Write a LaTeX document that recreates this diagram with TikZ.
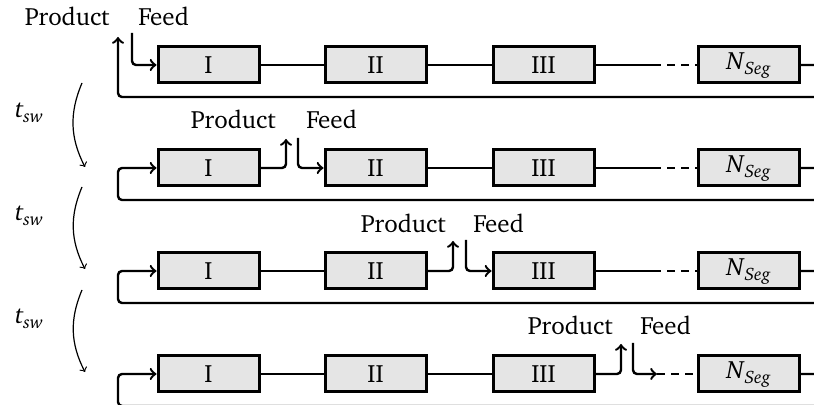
\documentclass[tikz,border=0pt]{standalone}
\usepackage[T1]{fontenc}
\usepackage{charter}
\usetikzlibrary{arrows,positioning}
\newcommand{\segsub}[2]{\textit{#1}\raisebox{-0.4ex}{\small\textit{#2}}}

\begin{document}
\begin{tikzpicture}[x=0.5pt,y=-0.5pt,font=\fontsize{12.5}{14}\selectfont]%
        \useasboundingbox (0,0) rectangle (814,405); %%
        \tikzstyle{seg}=[draw,line width=1.5pt,fill=gray!20,minimum width=50.5pt,minimum height=18pt,inner sep=0pt]%%
        \tikzstyle{pipe}=[line width=1.2pt,rounded corners=2pt]%%
        \tikzstyle{gap}=[pipe,dash pattern=on 4pt off 3pt]%%
        % columns: one row per switching step
        \begin{scope}
            \node[seg] (a1) at (208.5,65)  {I}; %%
            \node[seg] (a2) at (375.5,65)  {II}; %%
            \node[seg] (a3) at (543.5,65)  {III}; %%
            \node[seg] (a4) at (748.5,65)  {\segsub{N}{Seg}}; %%
            \node[seg] (b1) at (208.5,168)  {I}; %%
            \node[seg] (b2) at (375.5,168)  {II}; %%
            \node[seg] (b3) at (543.5,168)  {III}; %%
            \node[seg] (b4) at (748.5,168)  {\segsub{N}{Seg}}; %%
            \node[seg] (c1) at (208.5,271)  {I}; %%
            \node[seg] (c2) at (375.5,271)  {II}; %%
            \node[seg] (c3) at (543.5,271)  {III}; %%
            \node[seg] (c4) at (748.5,271)  {\segsub{N}{Seg}}; %%
            \node[seg] (d1) at (208.5,374)  {I}; %%
            \node[seg] (d2) at (375.5,374)  {II}; %%
            \node[seg] (d3) at (543.5,374)  {III}; %%
            \node[seg] (d4) at (748.5,374)  {\segsub{N}{Seg}}; %%
        \end{scope}
        % product outlets, feed inlets and loop corners
        \coordinate (ap) at (118,37); \coordinate (af) at (132,33); %%
        \coordinate (bp) at (286,139); \coordinate (bf) at (298,138); %%
        \coordinate (cp) at (453,241); \coordinate (cf) at (466,240); %%
        \coordinate (dp) at (621,344); \coordinate (df) at (633,343); %%
        \coordinate (ad) at (653,65); \coordinate (bd) at (653,168); %%
        \coordinate (cd) at (653,271); \coordinate (dd) at (657,374); %%
        \coordinate (ar) at (830,97); \coordinate (br) at (830,200); %%
        \coordinate (bl) at (118,200); \coordinate (cr) at (830,303); %%
        \coordinate (cl) at (118,303); \coordinate (dr) at (830,406); %%
        \coordinate (dl) at (118,406); %%
        \begin{scope}
            \tikzstyle{every node}=[inner sep=0pt]; %%
            \node[anchor=base east] (aprod) at (110,26)  {Product}; %%
            \node[anchor=base west] (afeed) at (138,26)  {Feed}; %%
            \node[anchor=base east] (bprod) at (276,129)  {Product}; %%
            \node[anchor=base west] (bfeed) at (306,129)  {Feed}; %%
            \node[anchor=base east] (cprod) at (446,233)  {Product}; %%
            \node[anchor=base west] (cfeed) at (473,233)  {Feed}; %%
            \node[anchor=base east] (dprod) at (613,335)  {Product}; %%
            \node[anchor=base west] (dfeed) at (640,335)  {Feed}; %%
            \node (t1) at (29,113)  {\segsub{t}{sw}}; %%
            \node (t2) at (29,216)  {\segsub{t}{sw}}; %%
            \node (t3) at (29,319)  {\segsub{t}{sw}}; %%
        \end{scope}
        % first step: switch in front of I
        \draw[pipe,->] (a4.east) -- (ar |- a4) -- (ar) -- (ap |- ar) -- (ap); %%
        \draw[pipe,->] (af) |- (a1.west); %%
        \draw[pipe] (a1)--(a2); %%
        \draw[pipe] (a2)--(a3); %%
        \draw[pipe] (a3)--(ad); %%
        \draw[gap] (ad)--(a4); %%
        % second step: switch between I and II
        \draw[pipe,->] (b4.east) -- (br |- b4) -- (br) -- (bl) -- (bl |- b1) -- (b1.west); %%
        \draw[pipe,->] (b1) -| (bp); %%
        \draw[pipe,->] (bf) |- (b2.west); %%
        \draw[pipe] (b2)--(b3); %%
        \draw[pipe] (b3)--(bd); %%
        \draw[gap] (bd)--(b4); %%
        % third step: switch between II and III
        \draw[pipe,->] (c4.east) -- (cr |- c4) -- (cr) -- (cl) -- (cl |- c1) -- (c1.west); %%
        \draw[pipe] (c1)--(c2); %%
        \draw[pipe,->] (c2) -| (cp); %%
        \draw[pipe,->] (cf) |- (c3.west); %%
        \draw[pipe] (c3)--(cd); %%
        \draw[gap] (cd)--(c4); %%
        % fourth step: switch behind III
        \draw[pipe,->] (d4.east) -- (dr |- d4) -- (dr) -- (dl) -- (dl |- d1) -- (d1.west); %%
        \draw[pipe] (d1)--(d2); %%
        \draw[pipe] (d2)--(d3); %%
        \draw[pipe,->] (d3) -| (dp); %%
        \draw[pipe,->] (df) |- (dd); %%
        \draw[gap] (dd)--(d4); %%
        % switching time arrows
        \coordinate (s1) at (82,83); \coordinate (e1) at (85,167); %%
        \coordinate (s2) at (82,187); \coordinate (e2) at (85,269); %%
        \coordinate (s3) at (82,290); \coordinate (e3) at (85,372); %%
        \draw[->,semithick] (s1) to[bend right=25] (e1); %%
        \draw[->,semithick] (s2) to[bend right=25] (e2); %%
        \draw[->,semithick] (s3) to[bend right=25] (e3); %%
\end{tikzpicture}
\end{document}
